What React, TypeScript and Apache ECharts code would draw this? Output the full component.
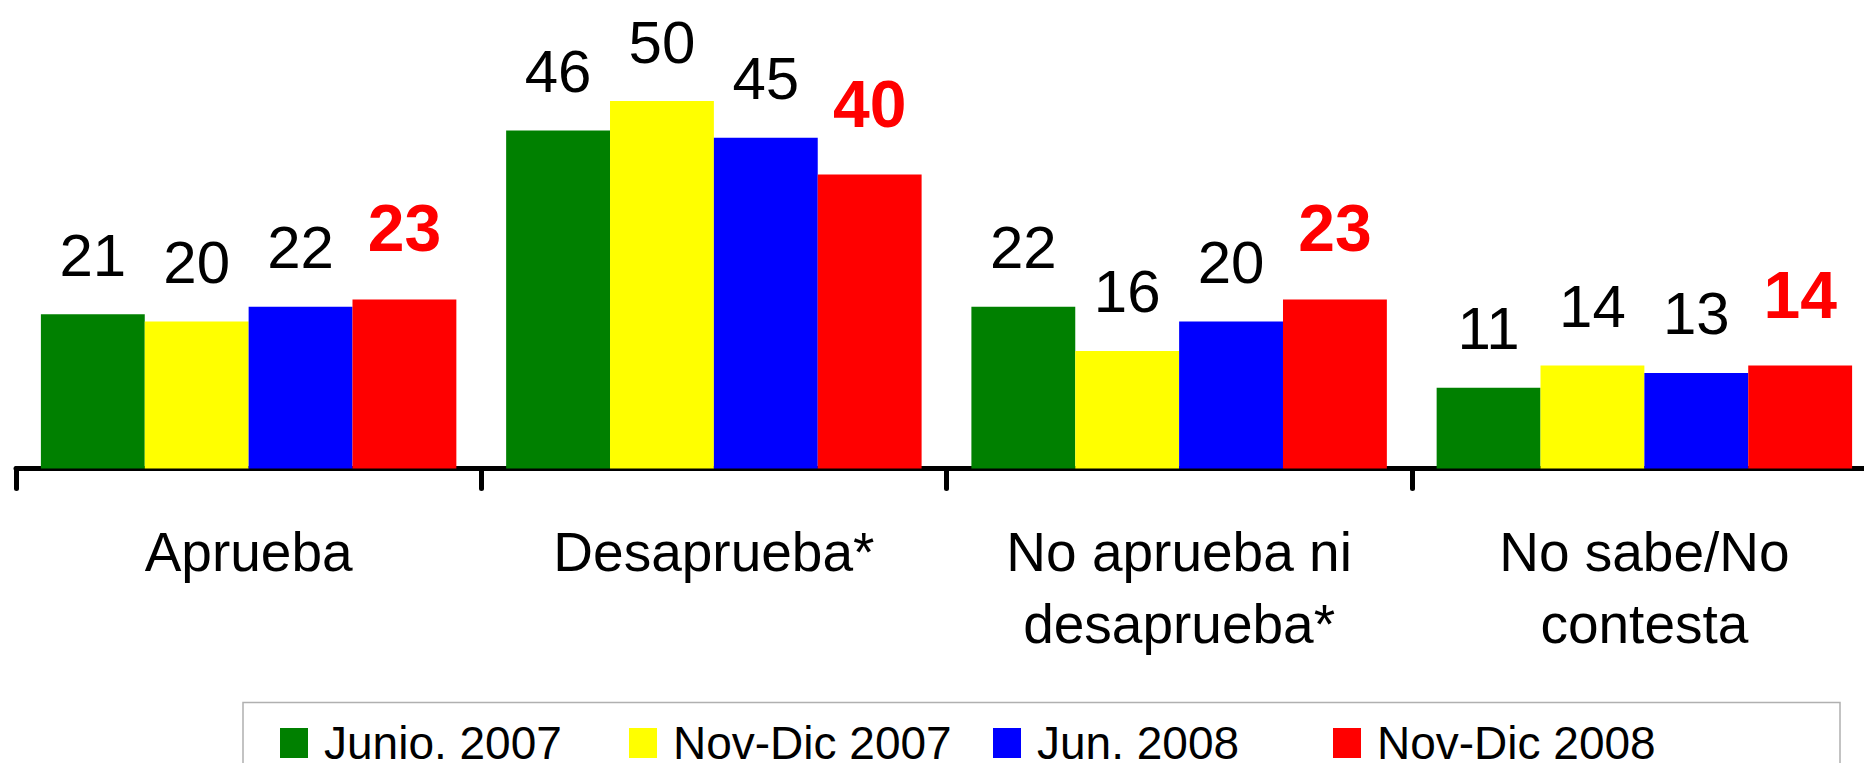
import React, { useEffect, useRef } from "react";
import * as echarts from "echarts";

const categories = ["Aprueba", "Desaprueba*", "No aprueba ni\ndesaprueba*", "No sabe/No\ncontesta"];
const seriesNames = ["Junio. 2007", "Nov-Dic 2007", "Jun. 2008", "Nov-Dic 2008"];
const junio2007 = [21, 46, 22, 11];
const novDic2007 = [20, 50, 16, 14];
const jun2008 = [22, 45, 20, 13];
const novDic2008 = [23, 40, 23, 14];
const colors = ["#008000", "#ffff00", "#0000ff", "#ff0000"];

const FONT = "'Liberation Sans', Arial, sans-serif";

export default function App() {
  const ref = useRef<HTMLDivElement>(null);
  useEffect(() => {
    document.body.style.margin = "0";
    document.body.style.overflow = "hidden";
    if (!ref.current) return;
    const chart = echarts.init(ref.current, null, { renderer: "svg" });
    const values = [junio2007, novDic2007, jun2008, novDic2008];
    const legendLefts = [280, 629, 993, 1333];
    const option: any = {
      animation: false,
      backgroundColor: "#ffffff",
      textStyle: { fontFamily: FONT },
      grid: { left: 16, width: 1861, top: 27.5, height: 441, containLabel: false },
      legend: seriesNames.map((n, i) => ({
        data: [n],
        left: legendLefts[i],
        top: 720,
        padding: 0,
        icon: "rect",
        itemWidth: 28,
        itemHeight: 30,
        selectedMode: false,
        textStyle: { fontSize: 46, color: "#000", fontFamily: FONT, padding: [0, 0, 0, 11] },
      })),
      xAxis: {
        type: "category",
        data: categories,
        axisLine: { lineStyle: { color: "#000", width: 5, cap: "round" } },
        axisTick: { show: true, length: 20, lineStyle: { color: "#000", width: 5, cap: "round" } },
        axisLabel: { fontSize: 55, lineHeight: 72, margin: 47, color: "#000", fontFamily: FONT, interval: 0 },
      },
      yAxis: { type: "value", show: false, min: 0, max: 60, splitLine: { show: false } },
      series: seriesNames.map((n, i) => ({
        name: n,
        type: "bar",
        data: values[i],
        barGap: "0%",
        barCategoryGap: "10.7%",
        itemStyle: { color: colors[i] },
        label: {
          show: true,
          position: "top",
          distance: i === 3 ? 38 : 29,
          fontSize: i === 3 ? 66 : 60,
          fontWeight: i === 3 ? "bold" : "normal",
          color: i === 3 ? "#ff0000" : "#000",
          fontFamily: FONT,
        },
      })),
      graphic: [
        {
          type: "rect",
          shape: { x: 243, y: 702.5, width: 1597, height: 120 },
          style: { fill: "none", stroke: "#b0b0b0", lineWidth: 1.5 },
          silent: true,
          z: -1,
        },
      ],
    };
    chart.setOption(option);
    return () => chart.dispose();
  }, []);
  return (
    <div style={{ width: 1864, height: 763, overflow: "hidden" }}>
      <div ref={ref} style={{ width: 1880, height: 763 }} />
    </div>
  );
}
